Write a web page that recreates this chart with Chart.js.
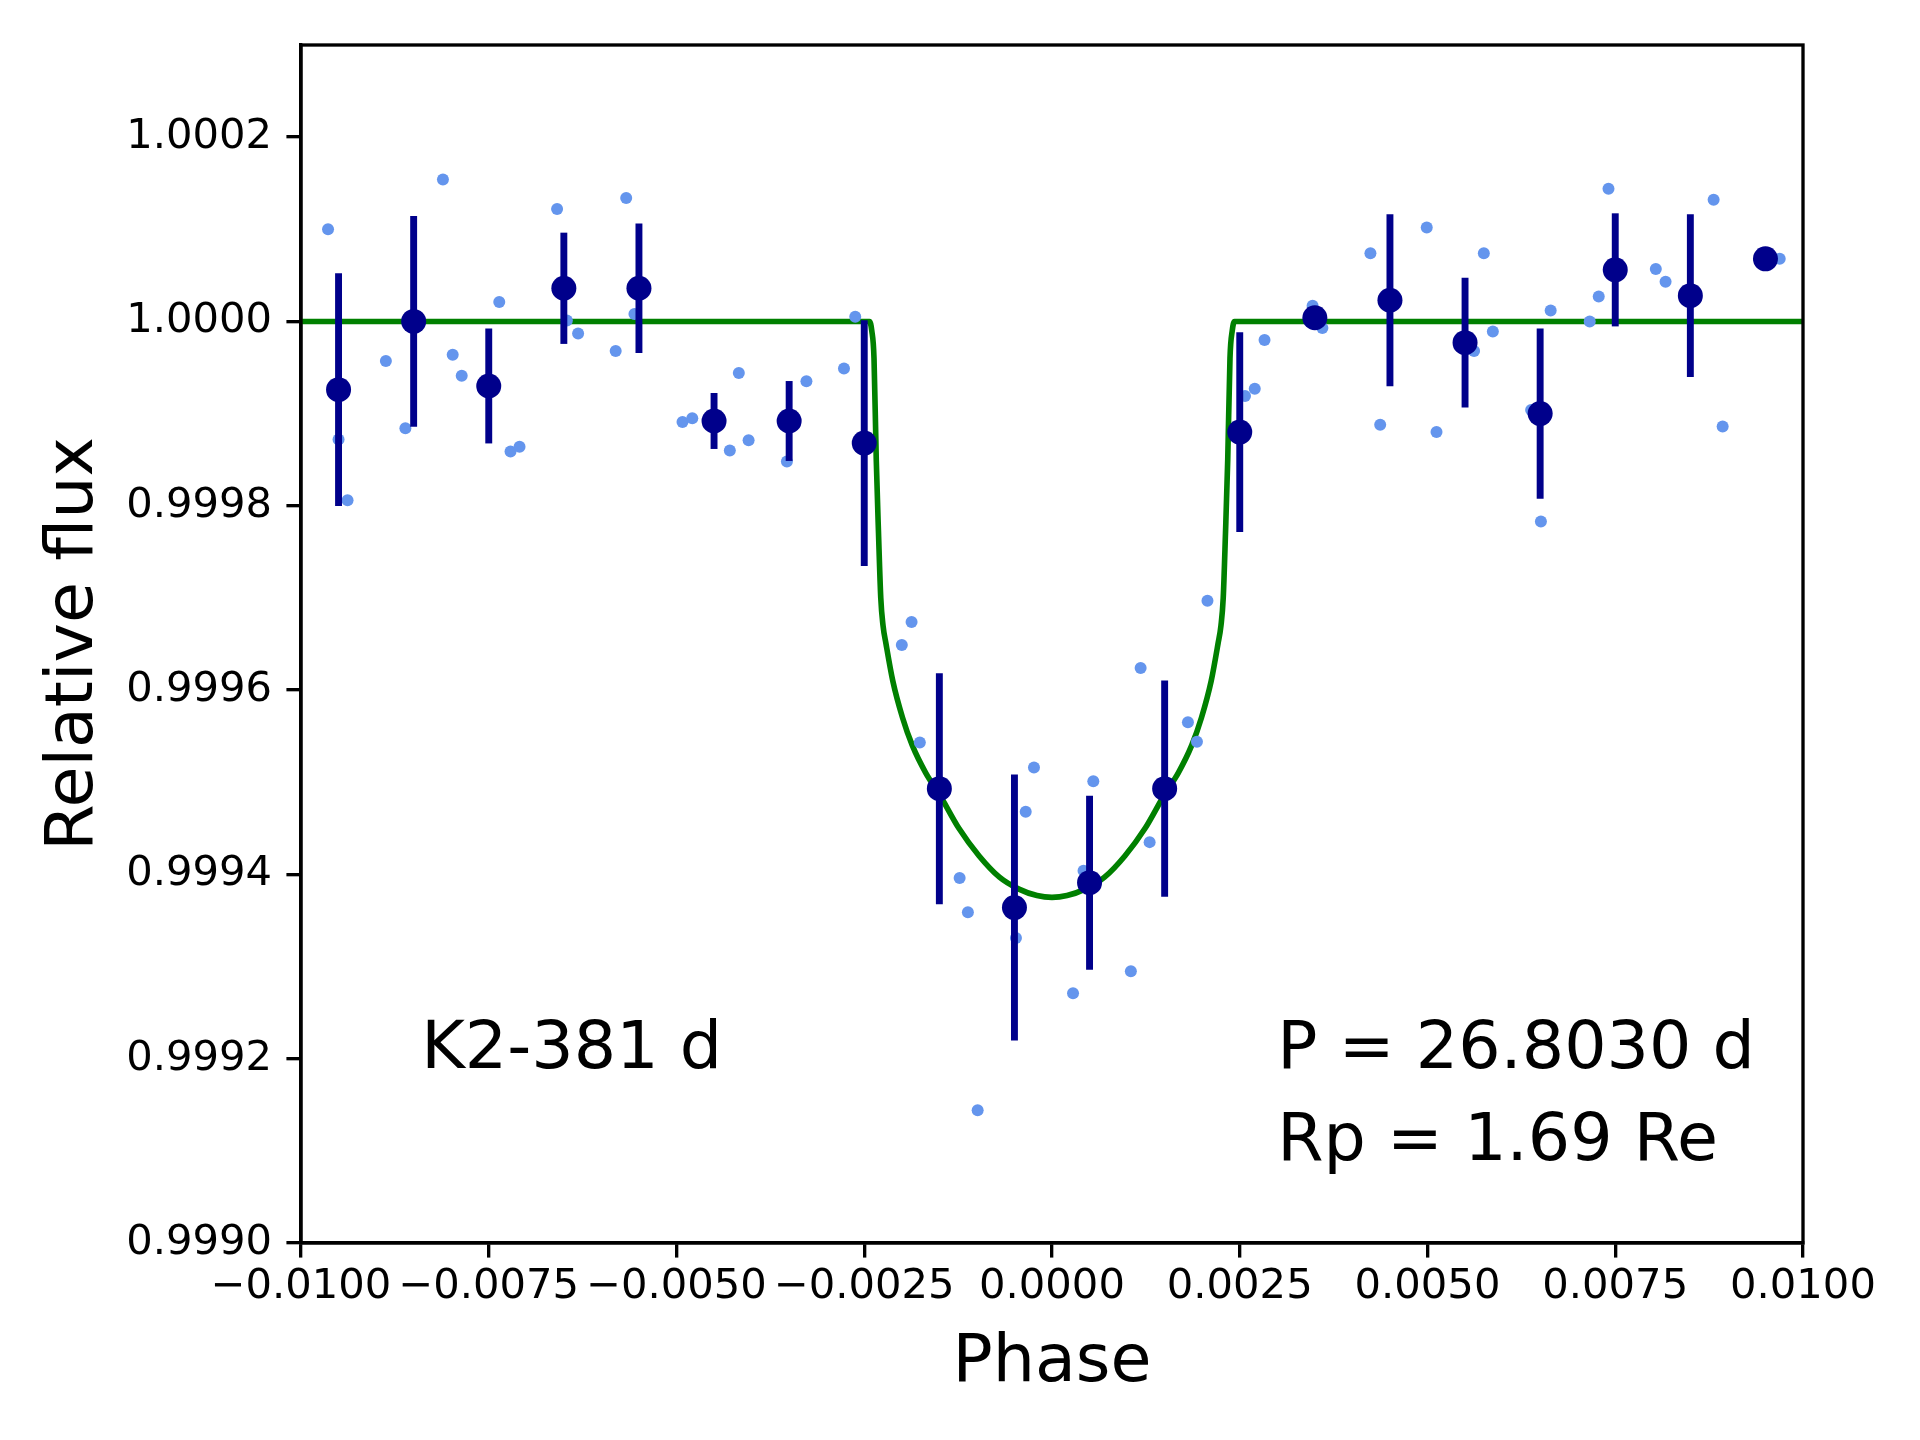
<!DOCTYPE html>
<html><head><meta charset="utf-8">
<script src="https://cdn.jsdelivr.net/npm/chart.js@4.4.1/dist/chart.umd.min.js"></script>
<style>html,body{margin:0;padding:0;background:#fff;}#wrap{width:1920px;height:1440px;}</style>
</head><body><div id="wrap"><canvas id="c" width="1920" height="1440"></canvas></div>
<script>
// Unbinned phase-folded photometry
const rawPhase = [-0.00964,-0.00950,-0.00938,-0.00887,-0.00861,-0.00811,-0.00798,-0.00786,-0.00736,-0.00721,-0.00709,-0.00659,-0.00646,-0.00631,-0.00581,-0.00567,-0.00556,-0.00492,-0.00479,-0.00429,-0.00417,-0.00404,-0.00353,-0.00327,-0.00277,-0.00262,-0.00200,-0.00187,-0.00176,-0.00123,-0.00112,-0.00099,-0.00048,-0.00035,-0.00024,0.00028,0.00042,0.00055,0.00105,0.00118,0.00130,0.00181,0.00193,0.00207,0.00257,0.00270,0.00283,0.00347,0.00360,0.00424,0.00437,0.00499,0.00512,0.00562,0.00575,0.00587,0.00638,0.00651,0.00664,0.00716,0.00728,0.00741,0.00804,0.00817,0.00881,0.00893,0.00969];
const rawFlux = [1.000100,0.999872,0.999806,0.999957,0.999884,1.000154,0.999964,0.999941,1.000021,0.999859,0.999864,1.000122,1.000001,0.999987,0.999968,1.000134,1.000008,0.999891,0.999895,0.999860,0.999944,0.999871,0.999848,0.999935,0.999949,1.000005,0.999649,0.999674,0.999543,0.999396,0.999359,0.999144,0.999331,0.999468,0.999516,0.999271,0.999404,0.999501,0.999295,0.999624,0.999435,0.999565,0.999544,0.999697,0.999919,0.999927,0.999980,1.000017,0.999993,1.000074,0.999888,1.000102,0.999880,0.999968,1.000074,0.999989,0.999904,0.999783,1.000012,1.000000,1.000027,1.000144,1.000057,1.000043,1.000132,0.999886,1.000068];

// Binned points with error bars
const binPhase = [-0.0095,-0.0085,-0.0075,-0.0065,-0.0055,-0.0045,-0.0035,-0.0025,-0.0015,-0.0005,0.0005,0.0015,0.0025,0.0035,0.0045,0.0055,0.0065,0.0075,0.0085,0.0095];
const binFlux = [0.999926,1.000000,0.999930,1.000036,1.000036,0.999892,0.999892,0.999868,0.999493,0.999364,0.999391,0.999493,0.999880,1.000004,1.000023,0.999977,0.999900,1.000056,1.000028,1.000068];
const binErr = [0.000126,0.000114,0.000062,0.000060,0.000070,0.000030,0.000043,0.000133,0.000125,0.000144,0.000094,0.000117,0.000108,0.000008,0.000093,0.000070,0.000092,0.000061,0.000088,0.000008];

// Transit model curve
const modelPhase = [-0.0100,-0.00243,-0.00240,-0.00237,-0.00234,-0.00231,-0.00228,-0.00225,-0.00221,-0.00212,-0.00199,-0.00186,-0.00168,-0.00150,-0.00124,-0.00097,-0.00070,-0.00044,-0.00020,0.0,0.00020,0.00044,0.00070,0.00097,0.00124,0.00150,0.00168,0.00186,0.00199,0.00212,0.00221,0.00225,0.00228,0.00231,0.00234,0.00237,0.00240,0.00243,0.0100];
const modelFlux = [1.0,1.0,0.99999,0.99996,0.99985,0.99977,0.99970,0.99967,0.99965,0.99961,0.99957,0.99954,0.99951,0.999487,0.99945,0.99942,0.999397,0.999384,0.999377,0.999375,0.999377,0.999384,0.999397,0.99942,0.99945,0.999487,0.99951,0.99954,0.99957,0.99961,0.99965,0.99967,0.99970,0.99977,0.99985,0.99996,0.99999,1.0,1.0];

// Axes
const xTicks = [-0.01,-0.0075,-0.005,-0.0025,0,0.0025,0.005,0.0075,0.01];
const xTickLabels = ['\u22120.0100','\u22120.0075','\u22120.0050','\u22120.0025','0.0000','0.0025','0.0050','0.0075','0.0100'];
const yTicks = [0.9990,0.9992,0.9994,0.9996,0.9998,1.0000,1.0002];
const yTickLabels = ['0.9990','0.9992','0.9994','0.9996','0.9998','1.0000','1.0002'];

// Annotations
const annoText = ['K2-381 d','P = 26.8030 d','Rp = 1.69 Re'];
const annoX = [-0.0084,0.003,0.003];
const annoY = [0.99919,0.99919,0.99909];

const PT = 300/72;
const FONT = 'DejaVu Sans';

const framePlugin = {
  id: 'frame',
  afterDatasetsDraw(chart) {
    const {ctx, chartArea: a, scales} = chart;
    ctx.save();
    ctx.strokeStyle = '#000';
    ctx.lineWidth = 0.8*PT;
    ctx.strokeRect(a.left, a.top, a.right - a.left, a.bottom - a.top);
    ctx.fillStyle = '#000';
    ctx.font = (16*PT) + 'px "' + FONT + '"';
    ctx.textAlign = 'left';
    ctx.textBaseline = 'alphabetic';
    annoText.forEach((t, i) => {
      ctx.fillText(t, scales.x.getPixelForValue(annoX[i]), scales.y.getPixelForValue(annoY[i]));
    });
    ctx.restore();
  }
};

new Chart(document.getElementById('c').getContext('2d'), {
  type: 'scatter',
  data: {
    datasets: [
      {
        type: 'line', label: 'model',
        data: modelPhase.map((x, i) => ({x: x, y: modelFlux[i]})),
        borderColor: '#008000', borderWidth: 1.35*PT, pointRadius: 0, fill: false,
        cubicInterpolationMode: 'monotone', borderJoinStyle: 'round', order: 4
      },
      {
        type: 'scatter', label: 'data',
        data: rawPhase.map((x, i) => ({x: x, y: rawFlux[i]})),
        backgroundColor: '#6495ED', borderWidth: 0, pointRadius: 6, order: 3
      },
      {
        type: 'bar', label: 'err',
        data: binPhase.map((x, i) => ({x: x, y: [binFlux[i] - binErr[i], binFlux[i] + binErr[i]]})),
        backgroundColor: '#00008B', borderWidth: 0, barThickness: 1.5*PT, grouped: false, order: 2
      },
      {
        type: 'scatter', label: 'binned',
        data: binPhase.map((x, i) => ({x: x, y: binFlux[i]})),
        backgroundColor: '#00008B', borderWidth: 0, pointRadius: 12.5, order: 1
      }
    ]
  },
  options: {
    responsive: false, animation: false, devicePixelRatio: 1,
    layout: {padding: {left: 0, top: 45, right: 117, bottom: 0}},
    plugins: {legend: {display: false}, tooltip: {enabled: false}},
    scales: {
      x: {
        type: 'linear', position: 'bottom', min: -0.01, max: 0.01, offset: false,
        afterBuildTicks: s => { s.ticks = xTicks.map(v => ({value: v})); },
        afterFit: s => { s.height = 197; },
        ticks: {callback: (v, i) => xTickLabels[i], font: {family: FONT, size: 10*PT}, color: '#000', padding: 5, maxRotation: 0, minRotation: 0, autoSkip: false},
        grid: {drawOnChartArea: false, drawTicks: true, tickLength: 3.5*PT, tickWidth: 0.8*PT, tickColor: '#000', offset: false, color: '#000', lineWidth: 0.8*PT},
        border: {display: true, color: '#000', width: 0.8*PT},
        title: {display: true, text: 'Phase', font: {family: FONT, size: 16*PT}, color: '#000', padding: {top: 0, bottom: 36}}
      },
      y: {
        type: 'linear', position: 'left', min: 0.9990, max: 1.0003,
        afterBuildTicks: s => { s.ticks = yTicks.map(v => ({value: v})); },
        afterFit: s => { s.width = 301; },
        ticks: {callback: (v, i) => yTickLabels[i], font: {family: FONT, size: 10*PT}, color: '#000', padding: 14.5},
        grid: {drawOnChartArea: false, drawTicks: true, tickLength: 3.5*PT, tickWidth: 0.8*PT, tickColor: '#000', color: '#000', lineWidth: 0.8*PT},
        border: {display: true, color: '#000', width: 0.8*PT},
        title: {display: true, text: 'Relative flux', font: {family: FONT, size: 16*PT}, color: '#000', padding: {top: 35, bottom: 0}}
      }
    }
  },
  plugins: [framePlugin]
});
</script>
</body></html>
